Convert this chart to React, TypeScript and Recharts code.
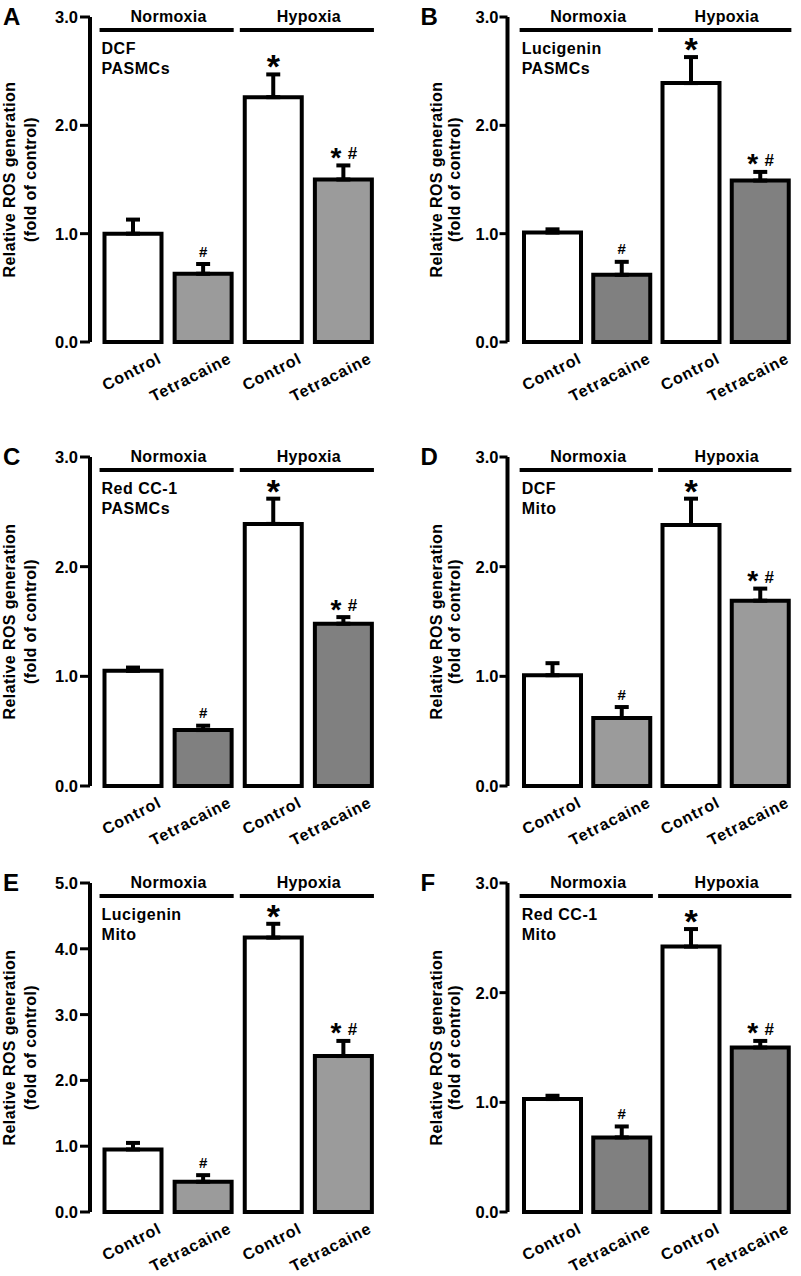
import React from "react";
import {
  BarChart,
  Bar,
  XAxis,
  YAxis,
  Cell,
  ErrorBar,
  LabelList,
  ReferenceLine,
} from "recharts";

// categories (one bar each), shared by all six panels
const groupKeys = ["nc", "nt", "hc", "ht"];
const barLabels = ["Control", "Tetracaine", "Control", "Tetracaine"];
const conditionNames = ["Normoxia", "Hypoxia"];
const sigMarks = ["", "#", "*", "*#"];

const panelLetters = ["A", "B", "C", "D", "E", "F"];
const probeNames = ["DCF", "Lucigenin", "Red CC-1", "DCF", "Lucigenin", "Red CC-1"];
const sampleNames = ["PASMCs", "PASMCs", "PASMCs", "Mito", "Mito", "Mito"];

// relative ROS generation (fold of control), mean and upper SEM
const valuesA = [1.0, 0.63, 2.26, 1.5];
const errorsA = [0.13, 0.09, 0.21, 0.13];
const valuesB = [1.01, 0.62, 2.39, 1.49];
const errorsB = [0.03, 0.12, 0.24, 0.08];
const valuesC = [1.05, 0.51, 2.39, 1.48];
const errorsC = [0.03, 0.04, 0.23, 0.06];
const valuesD = [1.01, 0.62, 2.38, 1.69];
const errorsD = [0.11, 0.1, 0.24, 0.11];
const valuesE = [0.95, 0.46, 4.17, 2.37];
const errorsE = [0.1, 0.1, 0.21, 0.23];
const valuesF = [1.03, 0.68, 2.42, 1.5];
const errorsF = [0.03, 0.1, 0.16, 0.06];

const ticks3 = [0, 1, 2, 3];
const ticks5 = [0, 1, 2, 3, 4, 5];

const panelValues = [valuesA, valuesB, valuesC, valuesD, valuesE, valuesF];
const panelErrors = [errorsA, errorsB, errorsC, errorsD, errorsE, errorsF];
const panelTicks = [ticks3, ticks3, ticks3, ticks3, ticks5, ticks3];

const FONT = '"Liberation Sans", Arial, Helvetica, sans-serif';
const LIGHT = "#9b9b9b";
const DARK = "#808080";
const panelShade = [LIGHT, DARK, DARK, LIGHT, LIGHT, DARK];

const columns = [
  { left: 0, width: 400, yw: 90, padL: 7.5, mr: 22, tickSize: 10, tickMargin: 2, t1: 75, t2: 54.5 },
  { left: 400, width: 401, yw: 107.5, padL: 10.5, mr: 6, tickSize: 8, tickMargin: 1, t1: 66, t2: 48 },
];
const rows = [
  { top: 0, plotH: 325 },
  { top: 440, plotH: 329 },
  { top: 866, plotH: 329 },
];

function XTick(props: any) {
  const { x, y, payload } = props;
  const i = groupKeys.indexOf(payload.value);
  const tx = x + 30;
  const ty = y + 20;
  return (
    <text
      x={tx}
      y={ty}
      transform={`rotate(-27, ${tx}, ${ty})`}
      textAnchor="end"
      fontFamily={FONT}
      fontWeight={700}
      fontSize={16}
      letterSpacing={1}
      fill="#000"
    >
      {barLabels[i]}
    </text>
  );
}

function YTick(props: any) {
  const { x, y, payload } = props;
  return (
    <text
      x={x}
      y={y + 6}
      textAnchor="end"
      fontFamily={FONT}
      fontWeight={700}
      fontSize={16.5}
      fill="#000"
    >
      {Number(payload.value).toFixed(1)}
    </text>
  );
}

function YTitle(props: any) {
  const { viewBox, col, letter } = props;
  const { x, y, width, height } = viewBox;
  const ax = x + width;
  const cy = y + height / 2;
  const common = {
    fontFamily: FONT,
    fontWeight: 700,
    fontSize: 16,
    fill: "#000",
    textAnchor: "middle" as const,
  };
  return (
    <g>
      <text
        {...common}
        x={ax - col.t1}
        y={cy}
        letterSpacing={0.4}
        transform={`rotate(-90, ${ax - col.t1}, ${cy})`}
      >
        Relative ROS generation
      </text>
      <text
        {...common}
        x={ax - col.t2}
        y={cy}
        letterSpacing={0.4}
        transform={`rotate(-90, ${ax - col.t2}, ${cy})`}
      >
        (fold of control)
      </text>
      <text x={ax - 87} y={y + 8} fontFamily={FONT} fontWeight={700} fontSize={24} fill="#000">
        {letter}
      </text>
    </g>
  );
}

function Header(props: any) {
  const { x1, y1, x2, name, lines } = props;
  const left = x1 - 33;
  const right = x2 + 31;
  return (
    <g>
      <line x1={left} x2={right} y1={y1 + 13} y2={y1 + 13} stroke="#000" strokeWidth={4} />
      <text
        x={(left + right) / 2 + 2}
        y={y1 + 5}
        textAnchor="middle"
        fontFamily={FONT}
        fontWeight={700}
        fontSize={16}
        letterSpacing={0.3}
        fill="#000"
      >
        {name}
      </text>
      {lines &&
        lines.map((t: string, i: number) => (
          <text
            key={i}
            x={x1 - 31}
            y={y1 + 37 + i * 19.5}
            fontFamily={FONT}
            fontWeight={700}
            fontSize={16}
            letterSpacing={0.5}
            fill="#000"
          >
            {t}
          </text>
        ))}
    </g>
  );
}

function SigMark(props: any) {
  const { index, value, values, errors } = props;
  if (!value) return null;
  const vb = props.viewBox ?? props;
  const { x, y, width, height } = vb;
  const top = Math.min(y, y + height);
  const ppu = Math.abs(height) / values[index];
  const errTop = top - errors[index] * ppu;
  const cx = x + width / 2;
  const txt = { fontFamily: FONT, fontWeight: 700, fill: "#000", textAnchor: "middle" as const };
  if (value === "*") {
    return (
      <text {...txt} x={cx} y={errTop + 4} fontSize={34}>
        *
      </text>
    );
  }
  if (value === "#") {
    return (
      <text {...txt} x={cx} y={errTop - 7.5} fontSize={15}>
        #
      </text>
    );
  }
  return (
    <g>
      <text {...txt} x={cx - 7.5} y={errTop + 1.5} fontSize={28}>
        *
      </text>
      <text {...txt} x={cx + 9} y={errTop - 6} fontSize={17}>
        #
      </text>
    </g>
  );
}

function Panel({ idx }: { idx: number }) {
  const col = columns[idx % 2];
  const row = rows[Math.floor(idx / 2)];
  const values = panelValues[idx];
  const errors = panelErrors[idx];
  const ticks = panelTicks[idx];
  const yMax = ticks[ticks.length - 1];
  const data = groupKeys.map((k, i) => ({
    key: k,
    value: values[i],
    err: [0, errors[i]],
    sig: sigMarks[i],
  }));
  const height = 17 + row.plotH + 72;

  return (
    <div style={{ position: "absolute", left: col.left, top: row.top }}>
      <BarChart
        width={col.width}
        height={height}
        data={data}
        margin={{ top: 17, right: col.mr, bottom: 0, left: 0 }}
        barCategoryGap={0}
      >
        <XAxis
          dataKey="key"
          axisLine={false}
          tickLine={false}
          tickSize={0}
          tickMargin={0}
          height={72}
          interval={0}
          padding={{ left: col.padL, right: 0 }}
          tick={<XTick />}
        />
        <YAxis
          type="number"
          domain={[0, yMax]}
          ticks={ticks}
          width={col.yw}
          axisLine={{ stroke: "#000", strokeWidth: 4 }}
          tickLine={{ stroke: "#000", strokeWidth: 3 }}
          tickSize={col.tickSize}
          tickMargin={col.tickMargin}
          tick={<YTick />}
          label={{
            content: (p: any) => <YTitle {...p} col={col} letter={panelLetters[idx]} />,
          }}
        />
        <ReferenceLine
          segment={[
            { x: groupKeys[0], y: yMax },
            { x: groupKeys[1], y: yMax },
          ]}
          shape={(p: any) => (
            <Header {...p} name={conditionNames[0]} lines={[probeNames[idx], sampleNames[idx]]} />
          )}
        />
        <ReferenceLine
          segment={[
            { x: groupKeys[2], y: yMax },
            { x: groupKeys[3], y: yMax },
          ]}
          shape={(p: any) => <Header {...p} name={conditionNames[1]} />}
        />
        <Bar dataKey="value" barSize={57} stroke="#000" strokeWidth={4} isAnimationActive={false}>
          {data.map((d, i) => (
            <Cell key={d.key} fill={i % 2 ? panelShade[idx] : "#ffffff"} />
          ))}
          <ErrorBar dataKey="err" direction="y" width={7} strokeWidth={4} stroke="#000" />
          <LabelList
            dataKey="sig"
            content={(p: any) => <SigMark {...p} values={values} errors={errors} />}
          />
        </Bar>
      </BarChart>
    </div>
  );
}

export default function App() {
  return (
    <div
      style={{
        position: "absolute",
        left: 0,
        top: 0,
        width: 801,
        height: 1276,
        background: "#fff",
        overflow: "hidden",
      }}
    >
      {panelLetters.map((l, i) => (
        <Panel key={l} idx={i} />
      ))}
    </div>
  );
}
